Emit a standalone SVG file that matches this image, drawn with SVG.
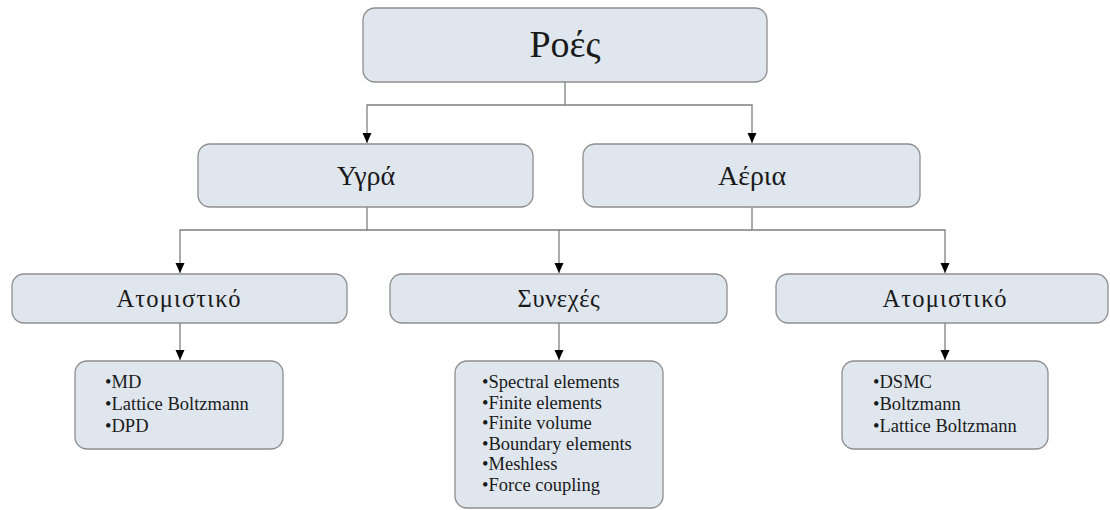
<svg xmlns="http://www.w3.org/2000/svg" width="1110" height="510" viewBox="0 0 1110 510">
<defs>
<style>
.box{fill:#dfe6ee;stroke:#8e8e8e;stroke-width:1.3}
.t{font-family:"Liberation Serif","Times New Roman",serif;fill:#1a1a1a;text-anchor:middle}
.l{font-family:"Liberation Serif","Times New Roman",serif;fill:#1a1a1a;font-size:18.5px}
.c{fill:none;stroke:#7f7f7f;stroke-width:1.3}
</style>
<marker id="ah" markerUnits="userSpaceOnUse" markerWidth="12" markerHeight="12" viewBox="0 0 12 12" refX="10" refY="6" orient="auto">
<path d="M0,1.5 L10,6 L0,10.5 Z" fill="#000"/>
</marker>
</defs>
<rect width="1110" height="510" fill="#ffffff"/>
<g id="connectors">
<path class="c" d="M565,82 V105 H367 V143" marker-end="url(#ah)"/>
<path class="c" d="M565,105 H752 V143" marker-end="url(#ah)"/>
<path class="c" d="M367,207 V230 H180 V273" marker-end="url(#ah)"/>
<path class="c" d="M367,230 H559 V273" marker-end="url(#ah)"/>
<path class="c" d="M559,230 H752"/>
<path class="c" d="M752,207 V230 H945 V273" marker-end="url(#ah)"/>
<path class="c" d="M180,323 V360" marker-end="url(#ah)"/>
<path class="c" d="M559,323 V360" marker-end="url(#ah)"/>
<path class="c" d="M945,323 V360" marker-end="url(#ah)"/>
</g>
<g id="roes">
<rect class="box" x="363" y="8" width="404" height="74" rx="12"/>
<text class="t" x="565" y="57" font-size="38">Ροές</text>
</g>
<g id="ygra">
<rect class="box" x="198" y="144" width="335" height="63" rx="12"/>
<text class="t" x="366" y="185" font-size="28">Υγρά</text>
</g>
<g id="aeria">
<rect class="box" x="583" y="144" width="337" height="63" rx="12"/>
<text class="t" x="752" y="185" font-size="28">Αέρια</text>
</g>
<g id="atomistiko-left">
<rect class="box" x="12" y="274" width="335" height="49" rx="12"/>
<text class="t" x="179" y="307" font-size="24.5" letter-spacing="1.2">Ατομιστικό</text>
</g>
<g id="synexes">
<rect class="box" x="390" y="274" width="337" height="49" rx="12"/>
<text class="t" x="559" y="307" font-size="24.5" letter-spacing="0.6">Συνεχές</text>
</g>
<g id="atomistiko-right">
<rect class="box" x="776" y="274" width="332" height="49" rx="12"/>
<text class="t" x="945" y="307" font-size="24.5" letter-spacing="1.2">Ατομιστικό</text>
</g>
<g id="leaf-left">
<rect class="box" x="75" y="361" width="208" height="88" rx="12"/>
<text class="l" x="105" y="388">•MD</text>
<text class="l" x="105" y="410">•Lattice Boltzmann</text>
<text class="l" x="105" y="432">•DPD</text>
</g>
<g id="leaf-middle">
<rect class="box" x="455" y="361" width="208" height="147" rx="12"/>
<text class="l" x="482" y="388">•Spectral elements</text>
<text class="l" x="482" y="408.6">•Finite elements</text>
<text class="l" x="482" y="429.2">•Finite volume</text>
<text class="l" x="482" y="449.8">•Boundary elements</text>
<text class="l" x="482" y="470.4">•Meshless</text>
<text class="l" x="482" y="491">•Force coupling</text>
</g>
<g id="leaf-right">
<rect class="box" x="842" y="361" width="206" height="88" rx="12"/>
<text class="l" x="873" y="388">•DSMC</text>
<text class="l" x="873" y="410">•Boltzmann</text>
<text class="l" x="873" y="432">•Lattice Boltzmann</text>
</g>
</svg>
